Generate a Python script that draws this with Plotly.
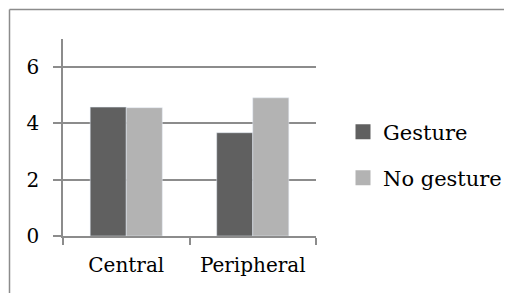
import plotly.graph_objects as go

categories = ["Central", "Peripheral"]
gesture = [4.58, 3.67]
no_gesture = [4.56, 4.91]
series_names = ["Gesture", "No gesture"]
y_ticks = [0, 2, 4, 6]

dark = "#606060"
light = "#b3b3b3"
grid = "#8c8c8c"
font = dict(family="DejaVu Serif", size=20, color="#000000")
legend_font = dict(family="DejaVu Serif", size=21, color="#000000")

fig = go.Figure()
fig.add_trace(go.Bar(x=categories, y=gesture, marker=dict(color=dark), showlegend=False))
fig.add_trace(go.Bar(x=categories, y=no_gesture, marker=dict(color=light), showlegend=False))
fig.add_trace(go.Scatter(x=[None], y=[None], mode="markers", name=series_names[0],
                         marker=dict(symbol="square", size=15, color=dark), legend="legend"))
fig.add_trace(go.Scatter(x=[None], y=[None], mode="markers", name=series_names[1],
                         marker=dict(symbol="square", size=15, color=light), legend="legend2"))

OFF = 8  # page body margin
W, H = 512 - OFF, 293 - OFF
L, R, T, B = 63 - OFF, 196, 39 - OFF, 57
pw = W - L - R
ph = H - T - B

def px_to_paper_x(px):
    return (px - OFF - L) / pw

def px_to_paper_y(py):
    return 1 - (py - OFF - T) / ph

fig.update_layout(
    width=W, height=H,
    margin=dict(l=L, r=R, t=T, b=B, pad=0, autoexpand=False),
    paper_bgcolor="white", plot_bgcolor="white",
    barmode="group", bargap=0.43, bargroupgap=0,
    font=font,
    legend=dict(x=px_to_paper_x(343), y=px_to_paper_y(132), xanchor="left", yanchor="middle",
                font=legend_font, bgcolor="rgba(0,0,0,0)", itemwidth=30),
    legend2=dict(x=px_to_paper_x(343), y=px_to_paper_y(178), xanchor="left", yanchor="middle",
                 font=legend_font, bgcolor="rgba(0,0,0,0)", itemwidth=30),
    xaxis=dict(showgrid=False, showline=True, linecolor=grid, linewidth=1.5,
               ticks="outside", tickson="boundaries", ticklen=7, tickcolor=grid, tickwidth=1.5,
               tickfont=font, zeroline=False, tickangle=0, ticklabelstandoff=10),
    yaxis=dict(range=[0, 7], tickvals=y_ticks, showgrid=True, gridcolor=grid, gridwidth=1.5,
               showline=True, linecolor=grid, linewidth=1.5,
               ticks="outside", ticklen=8, tickcolor=grid, tickwidth=1.5,
               tickfont=font, zeroline=False, ticklabelstandoff=10),
    shapes=[
        dict(type="line", xref="paper", yref="paper",
             x0=px_to_paper_x(9.5), x1=px_to_paper_x(520), y0=px_to_paper_y(9.5), y1=px_to_paper_y(9.5),
             line=dict(color="#8c8c8c", width=1.5)),
        dict(type="line", xref="paper", yref="paper",
             x0=px_to_paper_x(9.5), x1=px_to_paper_x(9.5), y0=px_to_paper_y(9.5), y1=px_to_paper_y(300),
             line=dict(color="#8c8c8c", width=1.5)),
    ],
)

fig.write_html("out.html")
